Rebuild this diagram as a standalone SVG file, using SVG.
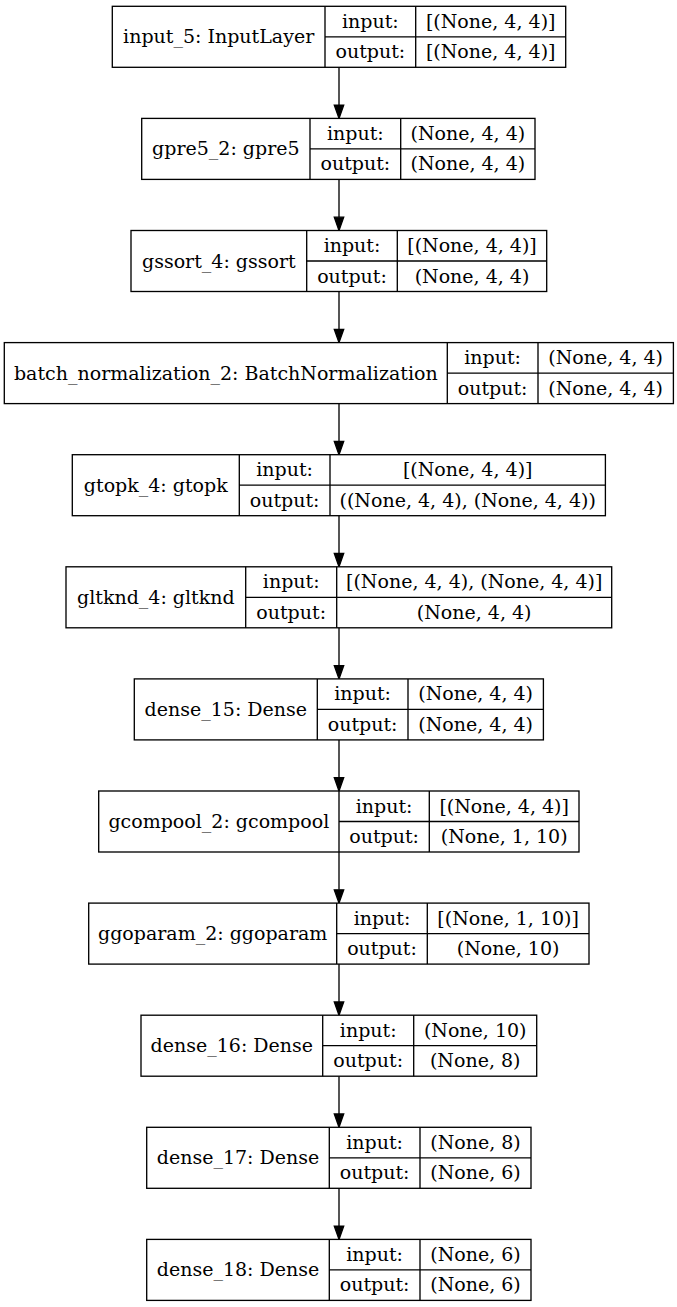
<svg xmlns="http://www.w3.org/2000/svg" width="677" height="1307" viewBox="0 0 677 1307">
<style>
.b{fill:#fff;stroke:#000;stroke-width:1.33}
.l{stroke:#000;stroke-width:1.33;fill:none}
text{font-family:"DejaVu Serif","Liberation Serif",serif;font-size:19px;fill:#000;text-anchor:middle}
.e{stroke:#000;stroke-width:1.33;fill:none}
.h{fill:#000;stroke:#000;stroke-width:1.33}
</style>
<rect width="677" height="1307" fill="#fff"/>
<g id="connectors">
<line class="e" x1="339" y1="67.3" x2="339" y2="105.1"/><polygon class="h" points="339,118.4 334.3,105.1 343.7,105.1"/>
<line class="e" x1="339" y1="179.4" x2="339" y2="217.2"/><polygon class="h" points="339,230.5 334.3,217.2 343.7,217.2"/>
<line class="e" x1="339" y1="291.5" x2="339" y2="329.3"/><polygon class="h" points="339,342.6 334.3,329.3 343.7,329.3"/>
<line class="e" x1="339" y1="403.6" x2="339" y2="441.4"/><polygon class="h" points="339,454.7 334.3,441.4 343.7,441.4"/>
<line class="e" x1="339" y1="515.7" x2="339" y2="553.5"/><polygon class="h" points="339,566.8 334.3,553.5 343.7,553.5"/>
<line class="e" x1="339" y1="627.8" x2="339" y2="665.6"/><polygon class="h" points="339,678.9 334.3,665.6 343.7,665.6"/>
<line class="e" x1="339" y1="739.9" x2="339" y2="777.7"/><polygon class="h" points="339,791 334.3,777.7 343.7,777.7"/>
<line class="e" x1="339" y1="852" x2="339" y2="889.8"/><polygon class="h" points="339,903.1 334.3,889.8 343.7,889.8"/>
<line class="e" x1="339" y1="964.1" x2="339" y2="1001.9"/><polygon class="h" points="339,1015.2 334.3,1001.9 343.7,1001.9"/>
<line class="e" x1="339" y1="1076.2" x2="339" y2="1114"/><polygon class="h" points="339,1127.3 334.3,1114 343.7,1114"/>
<line class="e" x1="339" y1="1188.3" x2="339" y2="1226.1"/><polygon class="h" points="339,1239.4 334.3,1226.1 343.7,1226.1"/>
</g>
<g id="node1">
<rect class="b" x="112.3" y="6.3" width="453.4" height="61"/>
<path class="l" d="M325,6.3V67.3M415.7,6.3V67.3M325,36.8H565.7"/>
<text x="218.65" y="43.3">input_5: InputLayer</text>
<text x="370.35" y="27.8">input:</text><text x="490.7" y="27.8">[(None, 4, 4)]</text>
<text x="370.35" y="58.3">output:</text><text x="490.7" y="58.3">[(None, 4, 4)]</text>
</g>
<g id="node2">
<rect class="b" x="141.7" y="118.4" width="393.3" height="61"/>
<path class="l" d="M310,118.4V179.4M400.7,118.4V179.4M310,148.9H535"/>
<text x="225.85" y="155.4">gpre5_2: gpre5</text>
<text x="355.35" y="139.9">input:</text><text x="467.85" y="139.9">(None, 4, 4)</text>
<text x="355.35" y="170.4">output:</text><text x="467.85" y="170.4">(None, 4, 4)</text>
</g>
<g id="node3">
<rect class="b" x="131" y="230.5" width="415.7" height="61"/>
<path class="l" d="M306.7,230.5V291.5M397.3,230.5V291.5M306.7,261H546.7"/>
<text x="218.85" y="267.5">gssort_4: gssort</text>
<text x="352" y="252">input:</text><text x="472" y="252">[(None, 4, 4)]</text>
<text x="352" y="282.5">output:</text><text x="472" y="282.5">(None, 4, 4)</text>
</g>
<g id="node4">
<rect class="b" x="4.3" y="342.6" width="669.1" height="61"/>
<path class="l" d="M447.3,342.6V403.6M538,342.6V403.6M447.3,373.1H673.4"/>
<text x="225.8" y="379.6">batch_normalization_2: BatchNormalization</text>
<text x="492.65" y="364.1">input:</text><text x="605.7" y="364.1">(None, 4, 4)</text>
<text x="492.65" y="394.6">output:</text><text x="605.7" y="394.6">(None, 4, 4)</text>
</g>
<g id="node5">
<rect class="b" x="72.3" y="454.7" width="533.1" height="61"/>
<path class="l" d="M239.3,454.7V515.7M330,454.7V515.7M239.3,485.2H605.4"/>
<text x="155.8" y="491.7">gtopk_4: gtopk</text>
<text x="284.65" y="476.2">input:</text><text x="467.7" y="476.2">[(None, 4, 4)]</text>
<text x="284.65" y="506.7">output:</text><text x="467.7" y="506.7">((None, 4, 4), (None, 4, 4))</text>
</g>
<g id="node6">
<rect class="b" x="66" y="566.8" width="545.7" height="61"/>
<path class="l" d="M245.7,566.8V627.8M336.7,566.8V627.8M245.7,597.3H611.7"/>
<text x="155.85" y="603.8">gltknd_4: gltknd</text>
<text x="291.2" y="588.3">input:</text><text x="474.2" y="588.3">[(None, 4, 4), (None, 4, 4)]</text>
<text x="291.2" y="618.8">output:</text><text x="474.2" y="618.8">(None, 4, 4)</text>
</g>
<g id="node7">
<rect class="b" x="134.3" y="678.9" width="409.1" height="61"/>
<path class="l" d="M317.3,678.9V739.9M408,678.9V739.9M317.3,709.4H543.4"/>
<text x="225.8" y="715.9">dense_15: Dense</text>
<text x="362.65" y="700.4">input:</text><text x="475.7" y="700.4">(None, 4, 4)</text>
<text x="362.65" y="730.9">output:</text><text x="475.7" y="730.9">(None, 4, 4)</text>
</g>
<g id="node8">
<rect class="b" x="98.7" y="791" width="480.3" height="61"/>
<path class="l" d="M339,791V852M429.3,791V852M339,821.5H579"/>
<text x="218.85" y="828">gcompool_2: gcompool</text>
<text x="384.15" y="812.5">input:</text><text x="504.15" y="812.5">[(None, 4, 4)]</text>
<text x="384.15" y="843">output:</text><text x="504.15" y="843">(None, 1, 10)</text>
</g>
<g id="node9">
<rect class="b" x="88.7" y="903.1" width="500.3" height="61"/>
<path class="l" d="M336.7,903.1V964.1M427.3,903.1V964.1M336.7,933.6H589"/>
<text x="212.7" y="940.1">ggoparam_2: ggoparam</text>
<text x="382" y="924.6">input:</text><text x="508.15" y="924.6">[(None, 1, 10)]</text>
<text x="382" y="955.1">output:</text><text x="508.15" y="955.1">(None, 10)</text>
</g>
<g id="node10">
<rect class="b" x="141" y="1015.2" width="395.7" height="61"/>
<path class="l" d="M322.7,1015.2V1076.2M413.7,1015.2V1076.2M322.7,1045.7H536.7"/>
<text x="231.85" y="1052.2">dense_16: Dense</text>
<text x="368.2" y="1036.7">input:</text><text x="475.2" y="1036.7">(None, 10)</text>
<text x="368.2" y="1067.2">output:</text><text x="475.2" y="1067.2">(None, 8)</text>
</g>
<g id="node11">
<rect class="b" x="146.7" y="1127.3" width="384.3" height="61"/>
<path class="l" d="M329.3,1127.3V1188.3M420,1127.3V1188.3M329.3,1157.8H531"/>
<text x="238" y="1164.3">dense_17: Dense</text>
<text x="374.65" y="1148.8">input:</text><text x="475.5" y="1148.8">(None, 8)</text>
<text x="374.65" y="1179.3">output:</text><text x="475.5" y="1179.3">(None, 6)</text>
</g>
<g id="node12">
<rect class="b" x="146.7" y="1239.4" width="384.3" height="61"/>
<path class="l" d="M329.3,1239.4V1300.4M420,1239.4V1300.4M329.3,1269.9H531"/>
<text x="238" y="1276.4">dense_18: Dense</text>
<text x="374.65" y="1260.9">input:</text><text x="475.5" y="1260.9">(None, 6)</text>
<text x="374.65" y="1291.4">output:</text><text x="475.5" y="1291.4">(None, 6)</text>
</g>
</svg>
